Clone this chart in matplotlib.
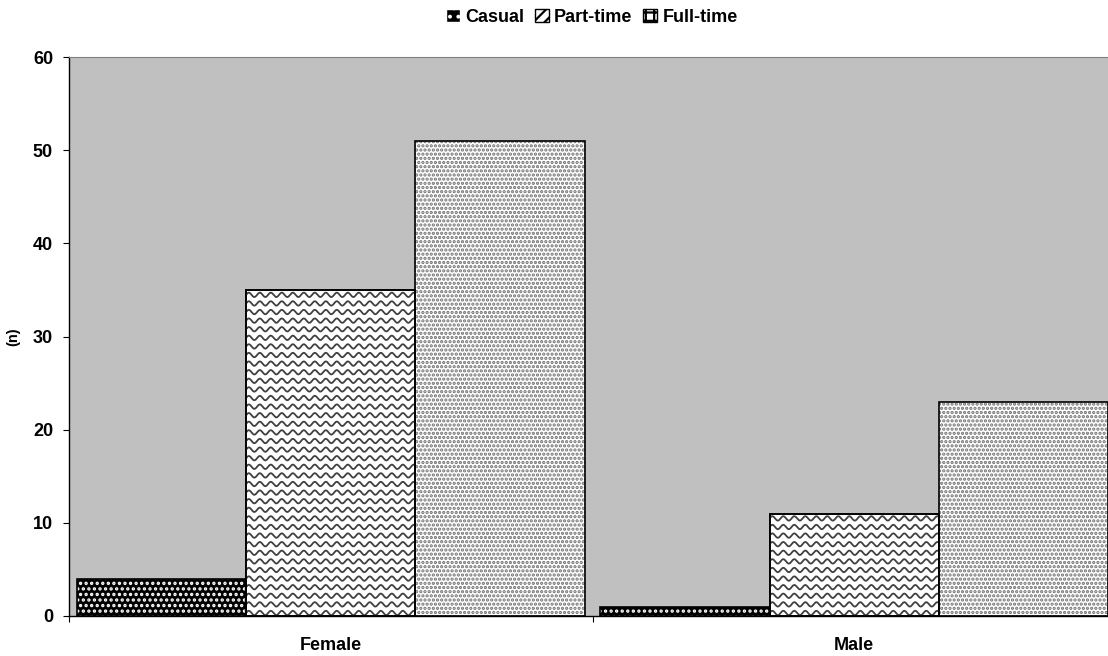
import numpy as np
import matplotlib
matplotlib.use('Agg')
import matplotlib.pyplot as plt
from matplotlib.patches import Patch

plt.rcParams['font.family'] = ['Liberation Sans', 'DejaVu Sans']
plt.rcParams['font.weight'] = 'bold'
plt.rcParams['hatch.linewidth'] = 1.6

groups = ['Female', 'Male']
series = ['Casual', 'Part-time', 'Full-time']
casual = [4, 1]
part_time = [35, 11]
full_time = [51, 23]
yticks = [0, 10, 20, 30, 40, 50, 60]

fig = plt.figure(figsize=(11.08, 6.56), dpi=100)
ax = fig.add_axes([69 / 1108, 0.061, 1047 / 1108, 0.852])
ax.set_facecolor('#c0c0c0')

x = np.arange(len(groups))
w = 0.3235
offsets = [-w, 0, w]

# casual: black with white dots, outline drawn separately
ax.bar(x + offsets[0], casual, w, color='black', edgecolor='white', hatch='...', linewidth=0, zorder=2)
ax.bar(x + offsets[0], casual, w, fill=False, edgecolor='black', linewidth=1.2, zorder=3)

# part-time: white with wavy lines
pt_bars = ax.bar(x + offsets[1], part_time, w, color='white', edgecolor='black', linewidth=1.2, zorder=2)
px_x = 1.0 / 523.5
px_y = 60.0 / 559
for b in pt_bars:
    x0, x1 = b.get_x(), b.get_x() + b.get_width()
    xs = np.linspace(x0, x1, 500)
    h = b.get_height()
    yb = px_y * 3
    while yb < h:
        ys = yb + 2.2 * px_y * np.sin(2 * np.pi * (xs - x0) / (11 * px_x))
        ln, = ax.plot(xs, ys, color='#404040', linewidth=1.3, zorder=2.5)
        ln.set_clip_path(b)
        yb += 8.6 * px_y
ax.bar(x + offsets[1], part_time, w, fill=False, edgecolor='black', linewidth=1.2, zorder=3)

# full-time: white with gray dots
ax.bar(x + offsets[2], full_time, w, color='white', edgecolor='#707070', hatch='....', linewidth=0, zorder=2)
ax.bar(x + offsets[2], full_time, w, fill=False, edgecolor='black', linewidth=1.2, zorder=3)

ax.set_xlim(-0.5, 1.5)
ax.set_ylim(0, 60)
ax.set_yticks(yticks)
ax.set_yticklabels([str(t) for t in yticks], fontsize=13, fontweight='bold')
ax.set_xticks([-0.5, 0.5, 1.5])
ax.set_xticklabels([])
ax.set_xticks(x, minor=True)
ax.set_xticklabels(groups, minor=True, fontsize=13, fontweight='bold')
ax.tick_params(axis='x', which='minor', length=0, pad=15)
ax.tick_params(axis='x', which='major', length=4.5, direction='out')
ax.tick_params(axis='y', length=4.5, direction='out', pad=7)
ax.set_ylabel('(n)', fontsize=10.5, fontweight='bold')
ax.yaxis.set_label_coords((20 - 69) / 1047, 0.5)

for s in ['left', 'bottom']:
    ax.spines[s].set_color('black')
    ax.spines[s].set_linewidth(1.0)
ax.spines['top'].set_color('#808080')
ax.spines['right'].set_visible(False)

handles = [
    Patch(facecolor='black', edgecolor='white', hatch='..', label='Casual'),
    Patch(facecolor='white', edgecolor='black', hatch='///', label='Part-time'),
    Patch(facecolor='white', edgecolor='black', hatch='++', label='Full-time'),
]
fig.legend(handles=handles, loc='center', bbox_to_anchor=(592 / 1108, 1 - 17 / 656), ncol=3,
           frameon=False, handlelength=0.75, handleheight=0.75,
           handletextpad=0.3, columnspacing=0.6, prop={'weight': 'bold', 'size': 13})

fig.savefig('out.png', dpi=100)
